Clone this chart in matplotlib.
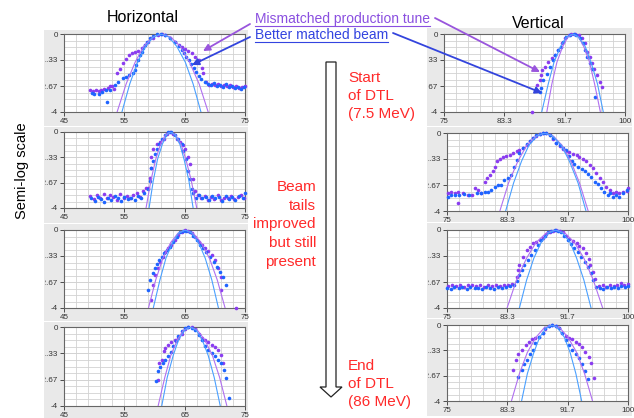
import numpy as np
import matplotlib
matplotlib.use("Agg")
import matplotlib.pyplot as plt
from matplotlib.patches import Rectangle, Polygon, FancyArrowPatch
from matplotlib.lines import Line2D
from matplotlib.transforms import Bbox, TransformedBbox

plt.rcParams['font.family'] = ['Liberation Sans', 'DejaVu Sans']

# ---------------------------------------------------------------------------
# Data (log10 of normalised intensity vs. position)
# ---------------------------------------------------------------------------
Y_TICKS = [0, -1.333, -2.667, -4]
Y_LABELS = ['0', '-1.33', '-2.67', '-4']
H_TICKS = [45, 55, 65, 75]
H_LABELS = ['45', '55', '65', '75']
V_TICKS = [75, 83.33, 91.67, 100]
V_LABELS = ['75', '83.3', '91.7', '100']

# shared level list for the gaussian fit curves
FIT_Y = [-4, -2.56, -1.44, -0.64, -0.16, 0, -0.16, -0.64, -1.44, -2.56, -4]

# Horizontal, start of DTL
H1_MIS_X = [49.3, 49.8, 50.3, 50.8, 51.2, 51.7, 52.3, 52.7, 53.0, 53.3, 53.8, 54.3, 54.8, 55.3, 55.7, 56.2, 56.8,
            57.3, 57.9, 58.4, 59.0, 59.8, 60.6, 61.2, 61.7, 62.6, 63.4, 64.0, 64.5, 65.1, 65.6, 66.2, 66.7, 67.3,
            67.8, 68.1, 68.6, 69.0, 69.5, 70.0, 70.5, 71.0, 71.5, 72.0, 72.5, 73.0, 73.5, 74.0, 74.5, 75.0]
H1_MIS_Y = [-2.85, -2.9, -2.87, -2.94, -2.88, -2.82, -2.77, -2.68, -2.65, -2.8, -2.02, -1.81, -1.5, -1.3, -1.07,
            -0.99, -0.9, -0.85, -0.74, -0.56, -0.39, -0.22, -0.05, 0.0, -0.05, -0.22, -0.39, -0.56, -0.68, -0.79,
            -0.85, -0.96, -1.16, -1.33, -1.76, -2.02, -2.45, -2.6, -2.55, -2.62, -2.58, -2.65, -2.6, -2.68, -2.62,
            -2.72, -2.65, -2.75, -2.7, -2.68]
H1_MAT_X = [49.7, 50.0, 50.8, 51.3, 51.9, 52.2, 52.7, 53.5, 53.9, 54.7, 55.3, 55.8, 56.4, 56.7, 57.0, 57.3, 57.6,
            57.9, 58.1, 58.4, 58.8, 59.2, 59.8, 60.4, 61.0, 61.8, 62.6, 63.4, 64.0, 64.5, 64.9, 65.3, 65.7, 66.1,
            66.5, 66.8, 67.3, 67.7, 68.3, 68.8, 69.3, 69.8, 70.3, 70.8, 71.3, 71.8, 72.3, 72.8, 73.3, 73.8, 74.3,
            74.8]
H1_MAT_Y = [-3.0, -3.1, -3.1, -2.95, -2.87, -3.47, -2.87, -2.61, -2.44, -2.27, -2.19, -2.1, -2.02, -1.85, -1.59,
            -1.33, -1.08, -0.9, -0.74, -0.56, -0.39, -0.22, -0.1, 0.0, 0.0, -0.05, -0.22, -0.39, -0.62, -0.82,
            -0.99, -1.2, -1.33, -1.54, -1.73, -1.93, -2.15, -2.32, -2.44, -2.55, -2.62, -2.52, -2.68, -2.6, -2.7,
            -2.58, -2.72, -2.65, -2.78, -2.7, -2.8, -2.74]
H1_FIT_MIS_X = [53.8, 55.3, 56.8, 58.2, 59.7, 61.2, 62.7, 64.3, 65.8, 67.4, 68.9]
H1_FIT_MAT_X = [54.6, 55.9, 57.2, 58.5, 59.8, 61.1, 62.4, 63.7, 65.1, 66.4, 67.7]

# Horizontal, second station
H2_MIS_X = [49.3, 49.9, 50.5, 51.0, 51.6, 52.1, 52.7, 53.2, 53.8, 54.3, 54.9, 55.4, 56.0, 56.5, 57.1, 57.6, 58.1,
            58.6, 59.0, 59.3, 59.4, 59.5, 59.8, 60.4, 60.9, 61.5, 62.0, 62.6, 63.1, 63.7, 64.2, 64.8, 65.1, 65.6,
            65.9, 66.3, 66.7, 67.2, 67.7, 68.3, 68.8, 69.4, 69.9, 70.5, 71.0, 71.6, 72.1, 72.7, 73.2, 73.8, 74.3,
            74.9]
H2_MIS_Y = [-3.35, -3.55, -3.3, -3.45, -3.25, -3.5, -3.3, -3.4, -3.6, -3.28, -3.45, -3.35, -3.5, -3.3, -3.2, -3.4,
            -3.1, -2.95, -2.93, -2.4, -1.9, -1.33, -0.89, -0.62, -0.53, -0.36, -0.09, 0.0, -0.09, -0.36, -0.53,
            -0.71, -0.89, -1.33, -1.69, -2.49, -3.1, -3.3, -3.5, -3.35, -3.6, -3.4, -3.55, -3.3, -3.6, -3.45, -3.5,
            -3.35, -3.55, -3.4, -3.3, -3.5]
H2_MAT_X = [49.5, 50.1, 50.6, 51.2, 51.7, 52.3, 52.8, 53.4, 53.9, 54.5, 55.0, 55.6, 56.1, 56.7, 57.2, 57.8, 58.3,
            59.0, 59.3, 59.5, 59.8, 60.1, 60.4, 60.8, 61.2, 61.7, 62.3, 62.8, 63.4, 63.9, 64.5, 64.8, 65.2, 65.6,
            65.9, 66.2, 66.4, 66.8, 67.4, 67.9, 68.5, 69.0, 69.6, 70.1, 70.7, 71.2, 71.8, 72.3, 72.9, 73.4, 74.0,
            74.6, 75.0]
H2_MAT_Y = [-3.45, -3.65, -3.4, -3.55, -3.7, -3.45, -3.6, -3.35, -3.5, -3.65, -3.4, -3.55, -3.45, -3.6, -3.35,
            -3.5, -3.2, -3.0, -2.58, -1.87, -1.51, -1.16, -0.89, -0.62, -0.36, -0.18, 0.0, 0.0, -0.18, -0.36, -0.62,
            -0.98, -1.42, -2.04, -2.49, -3.02, -3.2, -3.45, -3.3, -3.5, -3.4, -3.6, -3.35, -3.5, -3.4, -3.65,
            -3.35, -3.55, -3.4, -3.6, -3.35, -3.45, -3.2]
H2_FIT_MIS_X = [58.6, 59.4, 60.2, 61.0, 61.8, 62.6, 63.5, 64.4, 65.2, 66.1, 67.0]
H2_FIT_MAT_X = [59.1, 59.8, 60.5, 61.3, 62.0, 62.7, 63.4, 64.2, 64.9, 65.7, 66.4]

# Horizontal, third station
H3_MIS_X = [59.4, 59.7, 60.1, 60.5, 60.9, 61.4, 61.7, 62.3, 62.8, 63.4, 63.9, 64.5, 65.0, 65.6, 66.2, 66.7, 67.3,
            67.8, 68.4, 68.9, 69.5, 70.0, 70.6, 71.1, 71.1, 73.5]
H3_MIS_Y = [-3.57, -2.8, -2.32, -1.97, -1.63, -1.37, -1.12, -0.94, -0.77, -0.52, -0.26, -0.09, 0.0, -0.03, -0.17,
            -0.34, -0.6, -0.77, -0.94, -1.08, -1.29, -1.55, -1.97, -2.4, -3.1, -4.0]
H3_MAT_X = [59.0, 59.25, 59.7, 60.0, 60.4, 60.8, 61.2, 61.6, 62.0, 62.6, 63.1, 63.7, 64.2, 64.8, 65.3, 65.9, 66.4,
            67.0, 67.5, 68.1, 68.6, 69.2, 69.8, 70.3, 70.9, 71.3, 71.9]
H3_MAT_Y = [-3.09, -2.58, -2.23, -1.97, -1.72, -1.55, -1.37, -1.2, -1.03, -0.86, -0.6, -0.34, -0.12, -0.03, -0.03,
            -0.12, -0.29, -0.52, -0.77, -0.94, -1.15, -1.37, -1.63, -1.89, -2.15, -2.4, -2.8]
H3_FIT_MIS_X = [59.0, 60.2, 61.4, 62.7, 63.9, 65.1, 66.4, 67.7, 69.1, 70.4, 71.7]
H3_FIT_MAT_X = [59.8, 60.9, 61.9, 63.0, 64.0, 65.1, 66.2, 67.3, 68.4, 69.5, 70.6]

# Horizontal, end of DTL
H4_MIS_X = [60.5, 60.8, 61.2, 61.5, 61.7, 62.3, 62.8, 63.4, 63.9, 64.5, 65.0, 65.6, 66.2, 66.7, 67.3, 67.8, 68.4,
            68.9, 69.5, 70.0, 70.6, 71.1, 71.4]
H4_MIS_Y = [-2.68, -1.83, -1.66, -1.24, -1.07, -0.9, -0.78, -0.68, -0.56, -0.34, -0.1, 0.0, 0.0, -0.1, -0.34,
            -0.56, -0.68, -0.78, -0.9, -1.02, -1.15, -1.41, -1.83]
H4_MAT_X = [60.3, 60.6, 60.9, 61.4, 61.7, 62.3, 62.7, 63.1, 63.6, 63.9, 64.5, 65.0, 65.6, 66.2, 66.7, 67.3, 67.8,
            68.4, 68.9, 69.5, 70.0, 70.6, 71.1, 71.5, 71.9, 72.4]
H4_MAT_Y = [-2.71, -2.25, -2.0, -1.83, -1.66, -1.49, -1.29, -0.98, -0.73, -0.47, -0.22, -0.05, 0.0, -0.05, -0.17,
            -0.39, -0.64, -0.95, -1.15, -1.32, -1.49, -1.66, -1.83, -2.17, -2.59, -3.61]
H4_FIT_MIS_X = [60.6, 61.7, 62.7, 63.8, 64.8, 65.9, 67.1, 68.3, 69.6, 70.8, 72.0]
H4_FIT_MAT_X = [61.2, 62.1, 63.1, 64.0, 65.0, 65.9, 66.9, 67.9, 68.9, 69.9, 70.9]

# Vertical, start of DTL
V1_MIS_X = [87.1, 87.9, 88.2, 88.4, 88.6, 88.9, 89.4, 89.9, 90.3, 90.8, 91.3, 91.7, 92.2, 92.6, 93.1, 93.6, 94.0,
            94.5, 94.8, 95.1, 95.4, 95.7, 96.1, 96.5, 96.8]
V1_MIS_Y = [-3.98, -2.63, -2.37, -2.11, -1.85, -1.68, -1.42, -1.25, -1.08, -0.82, -0.48, -0.22, -0.05, 0.0, 0.0,
            -0.05, -0.22, -0.48, -0.91, -1.17, -1.51, -1.77, -2.11, -2.45, -2.71]
V1_MAT_X = [88.2, 88.4, 88.7, 89.2, 89.6, 90.0, 90.3, 90.8, 91.1, 91.5, 91.9, 92.4, 92.9, 93.3, 93.8, 94.2, 94.5,
            94.8, 95.2, 95.5, 95.9]
V1_MAT_Y = [-2.97, -2.75, -2.37, -2.03, -1.68, -1.34, -1.08, -0.82, -0.65, -0.39, -0.17, -0.05, 0.0, -0.05, -0.22,
            -0.48, -0.82, -1.17, -1.51, -1.77, -3.23]
V1_FIT_MIS_X = [89.2, 89.9, 90.6, 91.4, 92.1, 92.8, 93.6, 94.3, 95.1, 95.8, 96.6]
V1_FIT_MAT_X = [88.5, 89.4, 90.2, 91.1, 91.9, 92.8, 93.6, 94.5, 95.3, 96.2, 97.0]

# Vertical, second station
V2_MIS_X = [75.1, 75.6, 76.1, 76.5, 76.5, 77.2, 77.9, 78.4, 78.8, 79.3, 79.7, 80.2, 80.5, 80.9, 81.3, 81.6, 81.9,
            82.3, 82.7, 83.2, 83.7, 84.1, 84.6, 85.0, 85.5, 86.0, 86.4, 86.9, 87.3, 87.8, 88.3, 88.7, 89.2, 89.6,
            90.1, 90.6, 91.0, 91.5, 91.9, 92.4, 92.9, 93.3, 93.8, 94.2, 94.7, 95.2, 95.6, 96.1, 96.5, 97.0, 97.5,
            97.9, 98.4, 98.8, 99.3, 99.8, 100.0]
V2_MIS_Y = [-3.09, -3.0, -3.09, -3.0, -3.6, -3.09, -3.18, -3.18, -2.83, -2.92, -3.09, -2.49, -2.32, -2.15, -1.97,
            -1.72, -1.46, -1.32, -1.25, -1.2, -1.12, -1.03, -0.94, -0.86, -0.77, -0.6, -0.43, -0.26, -0.14, -0.05,
            0.0, -0.02, -0.12, -0.29, -0.52, -0.69, -0.81, -0.91, -0.98, -1.08, -1.15, -1.25, -1.34, -1.46, -1.63,
            -1.8, -2.06, -2.32, -2.52, -2.75, -2.92, -3.09, -3.0, -3.09, -3.0, -2.97, -2.83]
V2_MAT_X = [75.1, 75.6, 76.1, 76.7, 77.4, 78.1, 79.1, 79.7, 80.2, 80.7, 81.1, 81.6, 82.0, 82.5, 82.9, 83.4, 83.9,
            84.3, 84.7, 85.0, 85.5, 86.0, 86.4, 86.9, 87.3, 87.8, 88.3, 88.7, 89.2, 89.6, 90.1, 90.6, 91.0, 91.5,
            91.9, 92.2, 92.6, 93.1, 93.6, 94.0, 94.5, 94.9, 95.4, 95.8, 96.3, 96.7, 97.2, 97.5, 97.9, 98.4, 98.8,
            99.3, 99.8]
V2_MAT_Y = [-3.26, -3.18, -3.18, -3.2, -3.14, -3.2, -3.09, -3.09, -3.0, -3.0, -2.92, -2.75, -2.66, -2.66, -2.4,
            -2.32, -2.15, -1.72, -1.37, -1.03, -0.77, -0.57, -0.39, -0.26, -0.12, -0.03, 0.0, 0.0, -0.09, -0.26,
            -0.52, -0.64, -0.77, -0.86, -1.2, -1.46, -1.6, -1.72, -1.84, -1.97, -2.11, -2.28, -2.49, -2.63, -2.83,
            -3.0, -3.18, -3.09, -3.26, -3.18, -3.26, -3.09, -2.92]
V2_FIT_MIS_X = [82.3, 83.5, 84.8, 86.0, 87.3, 88.5, 89.7, 90.9, 92.1, 93.3, 94.5]
V2_FIT_MAT_X = [83.1, 84.2, 85.3, 86.3, 87.4, 88.5, 89.6, 90.8, 91.9, 93.1, 94.2]

# Vertical, third station
V3_MIS_X = [75.2, 75.7, 76.3, 76.8, 77.4, 77.9, 78.5, 79.0, 79.6, 80.1, 80.7, 81.2, 81.8, 82.3, 82.9, 83.4, 84.0,
            84.6, 84.8, 85.0, 85.5, 86.0, 86.4, 86.9, 87.3, 87.8, 88.3, 88.7, 89.2, 89.6, 90.1, 90.6, 91.0, 91.5,
            91.9, 92.4, 92.9, 93.3, 93.8, 94.2, 94.6, 94.8, 95.1, 95.4, 96.0, 96.5, 97.0, 97.5, 98.0, 98.5, 99.0,
            99.5, 100.0]
V3_MIS_Y = [-2.85, -2.8, -2.88, -2.82, -2.9, -2.84, -2.8, -2.88, -2.83, -2.9, -2.82, -2.86, -2.8, -2.88, -2.84,
            -2.82, -2.75, -2.4, -2.06, -1.8, -1.37, -1.03, -0.86, -0.69, -0.6, -0.52, -0.39, -0.22, -0.09, -0.03,
            0.0, -0.03, -0.12, -0.29, -0.46, -0.57, -0.69, -0.81, -0.94, -1.2, -1.49, -1.8, -2.15, -2.49, -2.88,
            -2.84, -2.9, -2.82, -2.86, -2.8, -2.74, -2.82, -2.78]
V3_MAT_X = [75.0, 75.5, 76.0, 76.6, 77.1, 77.7, 78.2, 78.8, 79.3, 79.9, 80.4, 81.0, 81.5, 82.1, 82.6, 83.2, 83.7,
            84.3, 84.6, 84.9, 85.3, 85.7, 86.2, 86.6, 87.1, 87.6, 88.0, 88.5, 88.9, 89.4, 89.9, 90.3, 90.8, 91.2,
            91.7, 92.1, 92.6, 93.1, 93.5, 94.0, 94.5, 94.9, 95.2, 95.6, 96.1, 96.6, 97.1, 97.6, 98.1, 98.6, 99.1,
            99.6, 100.0]
V3_MAT_Y = [-2.95, -3.0, -2.92, -2.98, -2.94, -3.02, -2.9, -2.98, -2.95, -3.0, -2.92, -2.96, -3.02, -2.94, -2.98,
            -2.9, -2.88, -2.8, -2.63, -2.32, -2.06, -1.8, -1.55, -1.29, -1.03, -0.77, -0.52, -0.29, -0.12, -0.03,
            0.0, -0.03, -0.12, -0.29, -0.52, -0.74, -0.94, -1.15, -1.37, -1.63, -1.89, -2.23, -2.58, -2.92, -2.95,
            -3.0, -2.92, -2.98, -2.9, -2.96, -2.88, -2.94, -2.85]
V3_FIT_MIS_X = [83.3, 84.6, 86.0, 87.3, 88.7, 90.0, 91.3, 92.6, 93.9, 95.2, 96.5]
V3_FIT_MAT_X = [85.0, 86.0, 87.0, 88.0, 89.0, 90.0, 91.0, 92.0, 92.9, 93.9, 94.9]

# Vertical, end of DTL
V4_MIS_X = [84.1, 84.5, 84.8, 85.3, 85.9, 86.3, 86.8, 87.2, 87.7, 88.2, 88.6, 89.1, 89.5, 90.0, 90.5, 90.9, 91.4,
            91.8, 92.3, 92.8, 93.2, 93.7, 94.1, 94.6, 94.9, 95.3]
V4_MIS_Y = [-2.38, -1.82, -1.54, -1.29, -1.06, -0.88, -0.76, -0.7, -0.62, -0.44, -0.23, -0.05, 0.0, -0.04, -0.18,
            -0.41, -0.58, -0.7, -0.76, -0.88, -1.0, -1.18, -1.41, -1.67, -1.99, -2.77]
V4_MAT_X = [84.8, 85.3, 85.7, 86.0, 86.5, 86.9, 87.2, 87.7, 88.2, 88.6, 89.1, 89.5, 90.0, 90.5, 90.9, 91.4, 91.8,
            92.3, 92.8, 93.2, 93.7, 94.1, 94.5]
V4_MAT_Y = [-2.73, -2.38, -2.06, -1.82, -1.54, -1.29, -0.97, -0.65, -0.41, -0.18, -0.05, 0.0, -0.04, -0.18, -0.44,
            -0.79, -1.06, -1.29, -1.5, -1.76, -2.06, -2.41, -2.82]
V4_FIT_MIS_X = [83.9, 85.0, 86.1, 87.3, 88.4, 89.5, 90.6, 91.7, 92.9, 94.0, 95.1]
V4_FIT_MAT_X = [85.3, 86.1, 87.0, 87.8, 88.7, 89.5, 90.3, 91.2, 92.0, 92.8, 93.6]

# Colours
MIS_DOT = '#8a3cf0'
MAT_DOT = '#1e64ff'
MIS_LINE = '#b070f0'
MAT_LINE = '#4aa0ff'
RED = '#ff2a2a'

W, H = 634, 418


def fig_rect(l, t, r, b):
    """pixel box (top-left origin) -> figure fraction rect"""
    return [l / W, 1 - b / H, (r - l) / W, (b - t) / H]


def fig_xy(x, y):
    return (x / W, 1 - y / H)


def draw_panel(fig, box, bg, xlim, xticks, xlabels, n_minor, mis, mat, fit_mis_x, fit_mat_x):
    # grey frame behind the panel
    fig.add_artist(Rectangle(fig_xy(bg[0], bg[3]), (bg[2] - bg[0]) / W, (bg[3] - bg[1]) / H,
                             transform=fig.transFigure, facecolor='#e9e9e9', edgecolor='none', zorder=-5))
    ax = fig.add_axes(fig_rect(*box))
    ax.set_facecolor('white')
    ax.set_xlim(xlim)
    ax.set_ylim(-4, 0)
    ax.set_xticks(xticks)
    ax.set_xticklabels(xlabels)
    ax.set_xticks(np.linspace(xlim[0], xlim[1], n_minor + 1), minor=True)
    ax.set_yticks(Y_TICKS)
    ax.set_yticklabels(Y_LABELS)
    ax.set_yticks(np.linspace(-4, 0, 13), minor=True)
    ax.set_axisbelow(True)
    ax.grid(True, which='both', color='#d2d2d2', lw=0.6)
    ax.tick_params(which='minor', length=0)
    ax.tick_params(which='major', length=3, width=0.6, labelsize=5.8, pad=1.5,
                   colors='#333333', direction='out')
    for s in ax.spines.values():
        s.set_color('#666666')
        s.set_linewidth(0.8)

    # tick labels are cut by the grey frame
    clip = TransformedBbox(Bbox.from_extents((bg[0] + 1) / W, 0, 1, 1), fig.transFigure)
    for lab in ax.get_yticklabels():
        lab.set_clip_on(True)
        lab.set_clip_box(clip)

    ax.plot(mis[0], mis[1], 'o', ms=2.6, mew=0, color=MIS_DOT, clip_on=False, zorder=3)
    ax.plot(mat[0], mat[1], 'o', ms=2.6, mew=0, color=MAT_DOT, clip_on=False, zorder=3)
    ax.plot(fit_mis_x, FIT_Y, '-', lw=0.8, color=MIS_LINE, zorder=4)
    ax.plot(fit_mat_x, FIT_Y, '-', lw=0.8, color=MAT_LINE, zorder=4)
    return ax


fig = plt.figure(figsize=(W / 100, H / 100), dpi=100)
fig.patch.set_facecolor('white')

left_panels = [
    ((64, 34, 245, 112), (44, 30, 248, 126), (H1_MIS_X, H1_MIS_Y), (H1_MAT_X, H1_MAT_Y), H1_FIT_MIS_X, H1_FIT_MAT_X),
    ((64, 132, 245, 208), (44, 127, 248, 223), (H2_MIS_X, H2_MIS_Y), (H2_MAT_X, H2_MAT_Y), H2_FIT_MIS_X, H2_FIT_MAT_X),
    ((64, 230, 245, 308), (44, 224, 248, 321), (H3_MIS_X, H3_MIS_Y), (H3_MAT_X, H3_MAT_Y), H3_FIT_MIS_X, H3_FIT_MAT_X),
    ((64, 327, 245, 406), (44, 322, 248, 418), (H4_MIS_X, H4_MIS_Y), (H4_MAT_X, H4_MAT_Y), H4_FIT_MIS_X, H4_FIT_MAT_X),
]
right_panels = [
    ((444, 34, 625, 112), (427, 28, 632, 126), (V1_MIS_X, V1_MIS_Y), (V1_MAT_X, V1_MAT_Y), V1_FIT_MIS_X, V1_FIT_MAT_X),
    ((447, 133, 628, 211), (427, 127, 632, 222), (V2_MIS_X, V2_MIS_Y), (V2_MAT_X, V2_MAT_Y), V2_FIT_MIS_X, V2_FIT_MAT_X),
    ((447, 230, 628, 308), (427, 223, 632, 318), (V3_MIS_X, V3_MIS_Y), (V3_MAT_X, V3_MAT_Y), V3_FIT_MIS_X, V3_FIT_MAT_X),
    ((447, 325, 628, 401), (427, 319, 632, 416), (V4_MIS_X, V4_MIS_Y), (V4_MAT_X, V4_MAT_Y), V4_FIT_MIS_X, V4_FIT_MAT_X),
]

for box, bg, mis, mat, fmx, fax in left_panels:
    draw_panel(fig, box, bg, (45, 75), H_TICKS, H_LABELS, 15, mis, mat, fmx, fax)
for box, bg, mis, mat, fmx, fax in right_panels:
    draw_panel(fig, box, bg, (75, 100), V_TICKS, V_LABELS, 15, mis, mat, fmx, fax)

# Column titles and side label
fig.text(*fig_xy(143, 17), 'Horizontal', ha='center', va='center', fontsize=11.5)
fig.text(*fig_xy(538, 23), 'Vertical', ha='center', va='center', fontsize=11.5)
fig.text(*fig_xy(22, 171), 'Semi-log scale', ha='center', va='center', rotation=90, fontsize=10.5)

# Legend-like labels (underlined)
t_mis = fig.text(*fig_xy(255, 23), 'Mismatched production tune', color='#8a4fe0', fontsize=10,
                 ha='left', va='baseline')
t_mat = fig.text(*fig_xy(255, 39), 'Better matched beam', color='#3344e0', fontsize=10,
                 ha='left', va='baseline')
renderer = fig.canvas.get_renderer()
for t, y_px in ((t_mis, 25.5), (t_mat, 41.5)):
    bb = t.get_window_extent(renderer)
    fig.add_artist(Line2D([bb.x0 / W, bb.x1 / W], [1 - y_px / H, 1 - y_px / H],
                          transform=fig.transFigure, color=t.get_color(), lw=0.8))

# Pointer arrows
arrows = [
    ((250, 24), (203, 51), '#9955dd'),
    ((435, 18), (540, 72), '#9955dd'),
    ((250, 37), (192, 65), '#3344dd'),
    ((393, 33), (542, 93), '#3344dd'),
]
for start, end, col in arrows:
    fig.add_artist(FancyArrowPatch(fig_xy(*start), fig_xy(*end), transform=fig.transFigure,
                                   arrowstyle='-|>', mutation_scale=10, color=col, lw=1.3,
                                   shrinkA=0, shrinkB=0))

# Hollow arrow down the middle
arrow_px = [(326, 62), (336, 62), (336, 387), (342, 387), (331, 397), (320, 387), (326, 387)]
fig.add_artist(Polygon([fig_xy(x, y) for x, y in arrow_px], closed=True, transform=fig.transFigure,
                       facecolor='white', edgecolor='#222222', lw=0.9))

# Red annotations
fig.text(*fig_xy(348, 71), 'Start\nof DTL\n(7.5 MeV)', color=RED, fontsize=11,
         ha='left', va='top', linespacing=1.35)
fig.text(*fig_xy(316, 180), 'Beam\ntails\nimproved\nbut still\npresent', color=RED, fontsize=11,
         ha='right', va='top', linespacing=1.43)
fig.text(*fig_xy(348, 359), 'End\nof DTL\n(86 MeV)', color=RED, fontsize=11,
         ha='left', va='top', linespacing=1.38)

fig.savefig('out.png', dpi=100)
